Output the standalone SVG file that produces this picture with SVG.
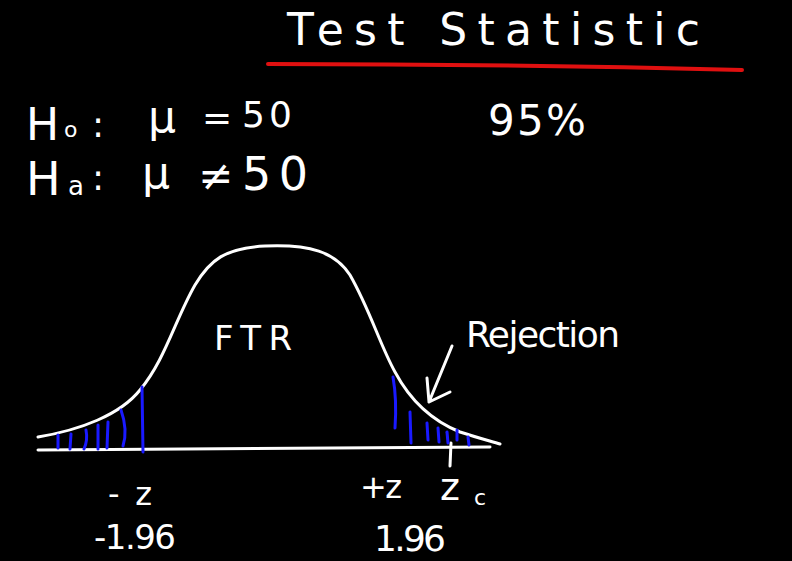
<svg xmlns="http://www.w3.org/2000/svg" width="792" height="561" viewBox="0 0 792 561">
<style>
.t{fill:#fff;font-family:"DejaVu Sans","Liberation Sans",sans-serif}
.w{stroke:#fff;stroke-width:3;fill:none;stroke-linecap:round;stroke-linejoin:round}
.b{stroke:#1a1aff;stroke-width:3;fill:none;stroke-linecap:round}
</style>
<rect width="792" height="561" fill="#000"/>
<g id="title">
<text class="t" x="287" y="45" font-size="44" textLength="413" lengthAdjust="spacing">Test  Statistic</text>
<path d="M268,64 Q500,64 742,70" stroke="#e01010" stroke-width="4" fill="none" stroke-linecap="round"/>
</g>
<g id="hypotheses">
<text class="t" x="26" y="140" font-size="44">H</text>
<text class="t" x="64" y="137" font-size="22">o</text>
<text class="t" x="92" y="137" font-size="36">:</text>
<text class="t" x="148" y="132" font-size="44">μ</text>
<text class="t" x="202" y="130" font-size="36">=</text>
<text class="t" x="242" y="127" font-size="36" textLength="50" lengthAdjust="spacing">50</text>
<text class="t" x="26" y="195" font-size="46">H</text>
<text class="t" x="68" y="195" font-size="26">a</text>
<text class="t" x="92" y="190" font-size="36">:</text>
<text class="t" x="142" y="188" font-size="44">μ</text>
<text class="t" x="198" y="190" font-size="42">≠</text>
<text class="t" x="242" y="190" font-size="46" textLength="66" lengthAdjust="spacing">50</text>
<text class="t" x="488" y="135" font-size="42" textLength="98" lengthAdjust="spacing">95%</text>
</g>
<g id="curve">
<path class="w" d="M38,450 Q260,448 490,447"/>
<path class="w" d="M38,437 C80,430 120,415 140,390 C165,360 175,320 195,285 C210,260 225,248 265,246 C310,244 335,252 350,275 C370,310 380,345 395,372 C410,400 430,420 460,432 C475,437 490,441 500,444"/>
<path class="w" d="M451,443 L450,466"/>
</g>
<g id="rejection-shading">
<path class="b" d="M58,435 L58,448"/>
<path class="b" d="M71,434 L70,449"/>
<path class="b" d="M86,430 Q88,440 84,449"/>
<path class="b" d="M98,425 L98,449"/>
<path class="b" d="M108,422 L107,448"/>
<path class="b" d="M121,410 Q128,430 123,446"/>
<path class="b" d="M142,387 L143,452"/>
<path class="b" d="M393,377 Q397,400 395,428"/>
<path class="b" d="M410,412 L411,443"/>
<path class="b" d="M427,423 L428,440"/>
<path class="b" d="M438,428 L439,442"/>
<path class="b" d="M447,432 L448,443"/>
<path class="b" d="M457,430 L457,440"/>
<path class="b" d="M468,437 L469,445"/>
</g>
<g id="connectors">
<path class="w" d="M452,346 L429,402 M427,378 L429,402 L450,392"/>
</g>
<g id="labels">
<text class="t" x="214" y="350" font-size="34" textLength="78" lengthAdjust="spacing">FTR</text>
<text class="t" x="466" y="347" font-size="36" textLength="154" lengthAdjust="spacing">Rejection</text>
<text class="t" x="108" y="505" font-size="32" textLength="44" lengthAdjust="spacing">-z</text>
<text class="t" x="360" y="498" font-size="32" textLength="42" lengthAdjust="spacing">+z</text>
<text class="t" x="440" y="500" font-size="38">z</text>
<text class="t" x="474" y="505" font-size="22">c</text>
<text class="t" x="94" y="549" font-size="34" textLength="82" lengthAdjust="spacing">-1.96</text>
<text class="t" x="374" y="551" font-size="36" textLength="72" lengthAdjust="spacing">1.96</text>
</g>
</svg>
